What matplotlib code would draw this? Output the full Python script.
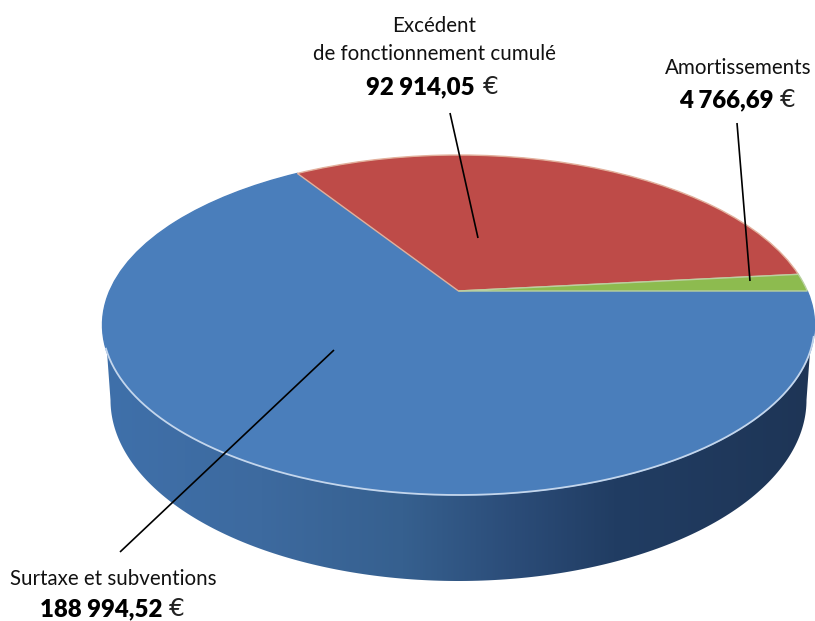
import numpy as np
import matplotlib
matplotlib.use("Agg")
import matplotlib.pyplot as plt
from matplotlib.colors import LinearSegmentedColormap
from matplotlib.patches import Polygon
from matplotlib.transforms import Affine2D, Transform

labels = ["Surtaxe et subventions", "Excédent\nde fonctionnement cumulé", "Amortissements"]
values = [188994.52, 92914.05, 4766.69]
value_texts = ["188 994,52", "92 914,05", "4 766,69"]
colors = ["#4a7ebb", "#be4b48", "#8dbb4f"]
edges = ["#4a7ebb", "#e2b09c", "#b9d0a0"]

plt.rcParams["font.family"] = ["Lato", "Open Sans", "DejaVu Sans"]


class Perspective(Transform):
    """Projective map keeping the unit circle, moving its centre up by b."""
    input_dims = output_dims = 2

    def __init__(self, b):
        super().__init__()
        self.b = b

    def transform_non_affine(self, xy):
        xy = np.asarray(xy, float)
        d = 1 + self.b * xy[:, 1]
        return np.column_stack([xy[:, 0] * np.sqrt(1 - self.b ** 2) / d,
                                (xy[:, 1] + self.b) / d])


fig = plt.figure(figsize=(8.15, 6.21), dpi=100)
ax = fig.add_axes([0, 0, 1, 1])

cx, cy, a, b = 458.5, 325, 356, 170
low_a, low_cy, low_b = 348, 400, 181

wedges, _ = ax.pie(values, colors=colors, startangle=0, counterclock=False,
                   wedgeprops=dict(linewidth=1.0))
to_pixels = Perspective(0.2) + Affine2D().scale(a, -b).translate(cx, cy) + ax.transData
for w, e, z in zip(wedges, edges, (3, 3.2, 3.4)):
    w.set_transform(to_pixels)
    w.set_edgecolor(e)
    w.set_zorder(z)

# pale rim along the front of the top face
t_rim = np.radians(np.linspace(4, 172, 300))
ax.plot(cx + a * np.cos(t_rim), cy + b * np.sin(t_rim), color="#c4d6ec", lw=1.3, zorder=4)

# extruded side wall with a horizontal shading
t = np.linspace(np.pi, 0, 200)
wall_pts = np.column_stack([cx + low_a * np.cos(t), low_cy + low_b * np.sin(t)])
top_pts = np.array([[cx + 352, 345], [cx - 352, 345]])
wall = Polygon(np.vstack([wall_pts, top_pts]), closed=True, transform=ax.transData,
               facecolor="none", edgecolor="none")
ax.add_patch(wall)
stops = [(0.0, "#3f70aa"), (0.22, "#3d6a9f"), (0.42, "#36608f"), (0.58, "#2b4c78"),
         (0.72, "#213d63"), (1.0, "#1e3556")]
cmap = LinearSegmentedColormap.from_list("wall", stops)
im = ax.imshow(np.linspace(0, 1, 512)[None, :], cmap=cmap, aspect="auto",
               extent=(cx - 354, cx + 354, 600, 300), zorder=2, interpolation="bilinear")
im.set_clip_path(wall)

ax.set_xlim(0, 815)
ax.set_ylim(621, 0)
ax.set_aspect("auto")
ax.axis("off")

# leader lines
leaders = [((334, 350), (120, 552)), ((450, 113), (478, 238)), ((737, 123), (750, 281))]
for (x0, y0), (x1, y1) in leaders:
    ax.plot([x0, x1], [y0, y1], color="black", lw=1.2, zorder=5, solid_capstyle="butt")

# labels
label_pos = [(113, 579), (434, 39.5), (738.5, 68)]
value_pos = [(162, 609, 169), (475, 87, 483), (774, 100, 780)]
for lab, (lx, ly), vt, (vx, vy, ex) in zip(labels, label_pos, value_texts, value_pos):
    ax.text(lx, ly, lab, ha="center", va="center", fontsize=14.8, color="#111111",
            linespacing=1.5, zorder=6)
    ax.text(vx, vy, vt, ha="right", va="center", fontsize=17.3, fontweight="heavy",
            color="black", zorder=6)
    ax.text(ex, vy, "€", ha="left", va="center", fontsize=18, color="#222222",
            family=["DejaVu Sans"], zorder=6)

fig.savefig("out.png", dpi=100, facecolor="white")
